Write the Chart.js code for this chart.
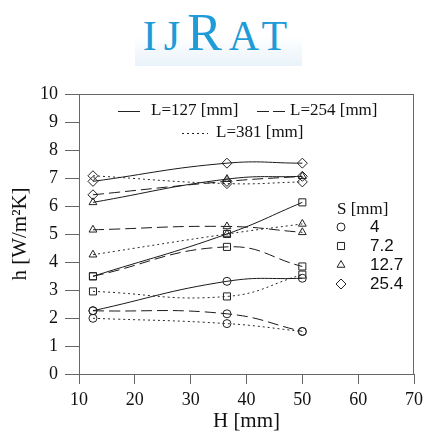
<!DOCTYPE html>
<html>
<head>
<meta charset="utf-8">
<script src="https://cdn.jsdelivr.net/npm/chart.js@4"></script>
<style>
  body { margin: 0; background: #fff; }
  #wrap { position: relative; width: 428px; height: 442px; }
  #logo {
    position: absolute; left: 135px; top: 0; width: 167px; height: 66px;
    background: linear-gradient(to bottom, #fff 55%, #e9f2fa);
    font-family: "Liberation Serif", serif; color: #1f9bd7;
    text-align: center; line-height: 66px; letter-spacing: 7px; z-index: 2;
  }
  #logo .s { font-size: 42px; }
  #logo .b { font-size: 52px; }
</style>
</head>
<body>
<div id="wrap">
  <div id="logo"><span class="s">IJ</span><span class="b">R</span><span class="s">AT</span></div>
  <canvas id="c" width="428" height="442"></canvas>
</div>
<script>
// H positions [mm]
const H = [12.5, 36.5, 50]
const xTicks = [10, 20, 30, 40, 50, 60, 70]

// h values [W/m2K], one array per S and L
const s4_L127 = [2.26, 3.31, 3.42]
const s4_L254 = [2.26, 2.15, 1.52]
const s4_L381 = [1.99, 1.80, 1.52]

const s72_L127 = [3.49, 5.00, 6.13]
const s72_L254 = [3.49, 4.54, 3.84]
const s72_L381 = [2.95, 2.77, 3.55]

const s127_L127 = [6.13, 6.96, 7.06]
const s127_L254 = [5.15, 5.27, 5.06]
const s127_L381 = [4.26, 5.00, 5.36]

const s254_L127 = [6.88, 7.53, 7.53]
const s254_L254 = [6.40, 6.88, 7.06]
const s254_L381 = [7.08, 6.80, 6.86]

const sLabels = ['4', '7.2', '12.7', '25.4']
const lLabels = ['L=127 [mm]', 'L=254 [mm]', 'L=381 [mm]']

const markers = [
  { style: 'circle', r: 4 },
  { style: 'rect', r: 5 },
  { style: 'triangle', r: 4.5 },
  { style: 'rectRot', r: 5 }
]
const dashes = [[], [11, 5], [2, 3]]

const seriesBySize = [
  [s4_L127, s4_L254, s4_L381],
  [s72_L127, s72_L254, s72_L381],
  [s127_L127, s127_L254, s127_L381],
  [s254_L127, s254_L254, s254_L381]
]

function makeDatasets() {
  let sets = []
  seriesBySize.forEach(function(group, i) {
    group.forEach(function(vals, j) {
      sets.push({
        label: 'S=' + sLabels[i] + ' ' + lLabels[j],
        data: vals.map(function(v, k) { return { x: H[k], y: v } }),
        borderColor: j == 2 ? '#2a2a2a' : '#1a1a1a',
        borderWidth: 1,
        borderDash: dashes[j],
        tension: 0.45,
        pointStyle: markers[i].style,
        pointRadius: markers[i].r,
        pointBackgroundColor: 'rgba(255,255,255,0)',
        pointBorderColor: '#222',
        pointBorderWidth: 1
      })
    })
  })
  return sets
}

const serif = '"Liberation Serif", "Times New Roman", serif'
const sans = '"Liberation Sans", Arial, sans-serif'

const legendPlugin = {
  id: 'legends',
  beforeDatasetsDraw(chart) {
    const ctx = chart.ctx
    const a = chart.chartArea
    ctx.save()
    ctx.strokeStyle = '#666'
    ctx.lineWidth = 1
    ctx.strokeRect(a.left + 0.5, a.top + 0.5, a.right - a.left - 1, a.bottom - a.top)
    ctx.restore()
  },
  afterDraw(chart) {
    const ctx = chart.ctx
    ctx.save()
    ctx.fillStyle = '#111'
    ctx.strokeStyle = '#222'
    ctx.lineWidth = 1
    ctx.font = '17px ' + serif
    ctx.textBaseline = 'middle'
    ctx.textAlign = 'left'

    // line style legend
    const rows = [[118, 140, 151, 111], [257, 285, 290, 111], [182, 208, 216, 133]]
    rows.forEach(function(r, j) {
      ctx.setLineDash(j == 1 ? [12, 4] : dashes[j])
      ctx.beginPath()
      ctx.moveTo(r[0], r[3] + 0.5)
      ctx.lineTo(r[1], r[3] + 0.5)
      ctx.stroke()
      ctx.fillText(lLabels[j], r[2], r[3])
    })
    ctx.setLineDash([])

    // marker legend
    ctx.fillText('S [mm]', 337, 210)
    ctx.font = '17px ' + sans
    const ys = [227, 246, 265, 284]
    sLabels.forEach(function(s, i) {
      ctx.fillStyle = '#fff'
      Chart.helpers.drawPoint(ctx, { pointStyle: markers[i].style, radius: markers[i].r, borderWidth: 1 }, 341, ys[i])
      ctx.fillStyle = '#111'
      ctx.fillText(s, 370, ys[i])
    })
    ctx.restore()
  }
}

const ctx = document.getElementById('c')
new Chart(ctx, {
  type: 'line',
  data: { datasets: makeDatasets() },
  options: {
    responsive: false,
    animation: false,
    layout: { padding: { top: 94, right: 14, left: 0, bottom: 0 } },
    plugins: { legend: { display: false }, tooltip: { enabled: false } },
    scales: {
      x: {
        type: 'linear',
        min: 10,
        max: 70,
        afterBuildTicks: function(scale) { scale.ticks = xTicks.map(function(v) { return { value: v } }) },
        afterFit: function(scale) { scale.height = 68 },
        ticks: { color: '#111', font: { family: serif, size: 18 }, padding: 5 },
        grid: { drawOnChartArea: false, tickLength: 10, color: '#666' },
        border: { color: '#666' },
        title: { display: true, text: 'H [mm]', color: '#111', font: { family: serif, size: 21 }, padding: { top: 0, bottom: 8 } }
      },
      y: {
        min: 0,
        max: 10,
        ticks: { stepSize: 1, color: '#111', font: { family: serif, size: 18 }, padding: 7 },
        afterFit: function(scale) { scale.width = 79 },
        grid: { drawOnChartArea: false, tickLength: 14, color: '#666' },
        border: { color: '#666' },
        title: { display: true, text: 'h [W/m²K]', color: '#111', font: { family: serif, size: 21 }, padding: { top: 8, bottom: 0 } }
      }
    }
  },
  plugins: [legendPlugin]
})
</script>
</body>
</html>
